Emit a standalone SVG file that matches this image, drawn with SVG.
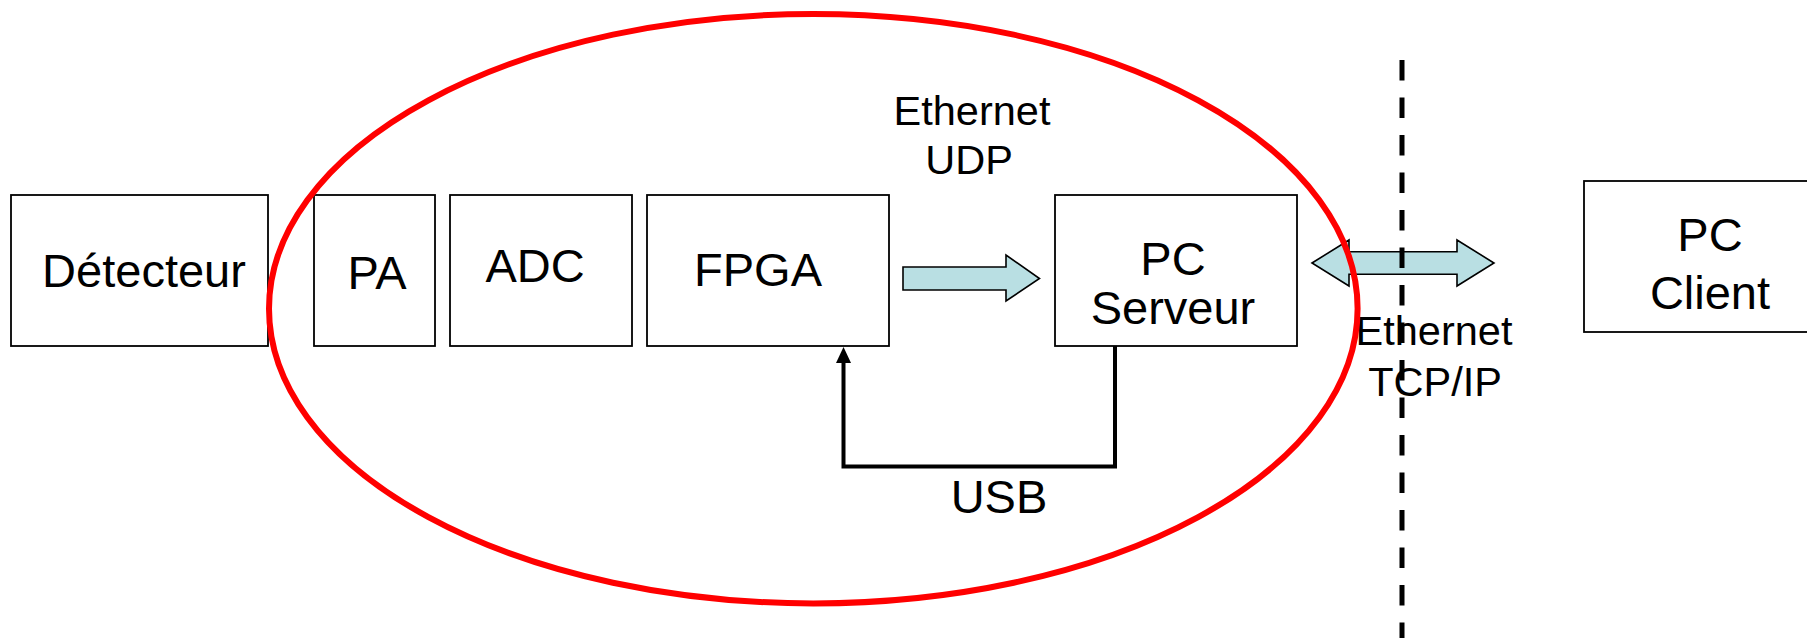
<svg xmlns="http://www.w3.org/2000/svg" width="1807" height="638" viewBox="0 0 1807 638">
  <defs>
    <style>
      .box { fill: #ffffff; stroke: #000000; stroke-width: 1.8; }
      .lbl { font-family: "Liberation Sans", Arial, sans-serif; font-size: 47px; fill: #000000; text-anchor: middle; }
      .sm { font-family: "Liberation Sans", Arial, sans-serif; font-size: 41.5px; fill: #000000; text-anchor: middle; }
      .fat { fill: #B9DFE3; stroke: #000000; stroke-width: 1.6; stroke-linejoin: miter; }
      .usb { fill: none; stroke: #000000; stroke-width: 4; }
    </style>
    <marker id="ah" markerUnits="userSpaceOnUse" markerWidth="16" markerHeight="16" refX="8" refY="8" orient="auto" viewBox="0 0 16 16">
      <path d="M0,0.5 L16,8 L0,15.5 Z" fill="#000000"/>
    </marker>
  </defs>
  <rect width="1807" height="638" fill="#ffffff"/>

  <g id="detecteur">
    <rect class="box" x="11" y="195" width="257" height="151"/>
    <text class="lbl" x="144" y="287">Détecteur</text>
  </g>
  <g id="pa">
    <rect class="box" x="314" y="195" width="121" height="151"/>
    <text class="lbl" x="377" y="289">PA</text>
  </g>
  <g id="adc">
    <rect class="box" x="450" y="195" width="182" height="151"/>
    <text class="lbl" x="535" y="282">ADC</text>
  </g>
  <g id="fpga">
    <rect class="box" x="647" y="195" width="242" height="151"/>
    <text class="lbl" x="758" y="286">FPGA</text>
  </g>
  <g id="pc-serveur">
    <rect class="box" x="1055" y="195" width="242" height="151"/>
    <text class="lbl" x="1173" y="275">PC</text>
    <text class="lbl" x="1173" y="324">Serveur</text>
  </g>
  <g id="pc-client">
    <rect class="box" x="1584" y="181" width="260" height="151"/>
    <text class="lbl" x="1710" y="251">PC</text>
    <text class="lbl" x="1710" y="309">Client</text>
  </g>

  <g id="connectors">
    <polygon class="fat" points="903,267 1006,267 1006,255 1039.5,278.5 1006,301 1006,290 903,290"/>
    <polygon class="fat" points="1312,263 1349,240 1349,251.7 1457,251.7 1457,240 1494,263 1457,286 1457,274.3 1349,274.3 1349,286"/>
    <path class="usb" d="M1115,346 V466.5 H843.5 V355" marker-end="url(#ah)"/>
  </g>

  <g id="labels">
    <text class="sm" x="972" y="125">Ethernet</text>
    <text class="sm" x="969" y="174">UDP</text>
    <text class="sm" x="1434" y="345">Ethernet</text>
    <text class="sm" x="1435" y="396">TCP/IP</text>
    <text class="lbl" x="999" y="513">USB</text>
  </g>

  <g id="boundary">
    <ellipse cx="813.3" cy="308.7" rx="544.3" ry="294.7" fill="none" stroke="#ff0000" stroke-width="6"/>
    <line x1="1402" y1="60" x2="1402" y2="638" stroke="#000000" stroke-width="5" stroke-dasharray="20.5 17"/>
  </g>
</svg>
